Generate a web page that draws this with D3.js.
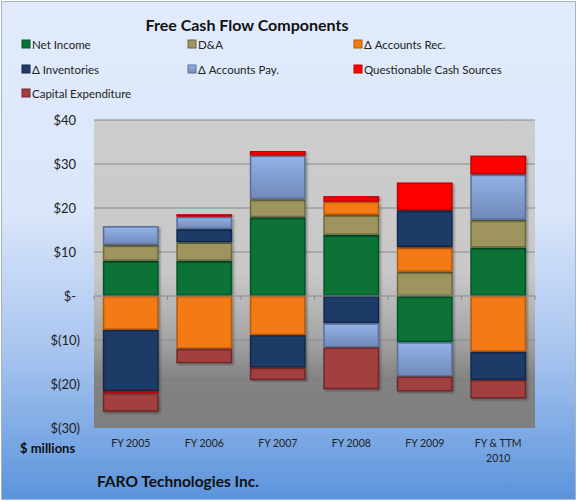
<!DOCTYPE html>
<html><head><meta charset="utf-8">
<script src="https://cdn.jsdelivr.net/npm/d3@7"></script>
<style>body{margin:0;padding:0;overflow:hidden}svg{display:block}text{font-family:Lato,"Open Sans",sans-serif}</style>
</head><body>
<script>
const categories = ["FY 2005","FY 2006","FY 2007","FY 2008","FY 2009","FY & TTM\n2010"];
const seriesNames = ["Net Income","D&A","\u0394 Accounts Rec.","\u0394 Inventories","\u0394 Accounts Pay.","Questionable Cash Sources","Capital Expenditure"];
const netIncome   = [8.0, 8.0, 17.9, 13.9, -10.5, 11.0];
const dna         = [3.6, 4.2, 4.1, 4.5, 5.5, 6.3];
const accountsRec = [-7.7, -12.0, -8.9, 3.0, 5.6, -12.7];
const inventories = [-13.9, 3.0, -7.4, -6.2, 8.4, -6.4];
const accountsPay = [4.3, 2.8, 9.9, -5.5, -7.8, 10.4];
const questionable= [-0.5, 0.6, 1.1, 1.3, 6.3, 4.2];
const capex       = [-4.2, -3.3, -2.8, -9.5, -3.4, -4.2];
const yTicks = [40,30,20,10,0,-10,-20,-30];
const colors = ["#077236","#9d955d","#f47a12","#1d3b66","#8aa8da","#ff0000","#a23f3f"];
const strokes = ["#04552a","#6f6a3f","#b85a0b","#12284a","#5a6f98","#c00000","#702828"];

const W=578,H=502;
const svg=d3.select("body").append("svg").attr("width",W).attr("height",H);
const defs=svg.append("defs");
const bg=defs.append("linearGradient").attr("id","bg").attr("x1",0).attr("y1",0).attr("x2",0).attr("y2",1);
[[0,"#e1ebfb"],[0.42,"#dae6fa"],[0.7,"#a9c5ef"],[1,"#5b94dc"]].forEach(s=>bg.append("stop").attr("offset",s[0]).attr("stop-color",s[1]));
const pg=defs.append("linearGradient").attr("id","pg").attr("x1",0).attr("y1",0).attr("x2",0).attr("y2",1);
[[0,"#cdcdcd"],[0.5,"#c8c8c8"],[0.72,"#a3a3a3"],[0.84,"#828282"],[1,"#7f7f7f"]].forEach(s=>pg.append("stop").attr("offset",s[0]).attr("stop-color",s[1]));
const apg=defs.append("linearGradient").attr("id","apg").attr("x1",0).attr("y1",0).attr("x2",0).attr("y2",1);
[[0,"#93b3e6"],[1,"#7089ba"]].forEach(s=>apg.append("stop").attr("offset",s[0]).attr("stop-color",s[1]));
const sh=defs.append("filter").attr("id","sh").attr("x","-10%").attr("y","-10%").attr("width","130%").attr("height","130%");
sh.append("feDropShadow").attr("dx",1.5).attr("dy",1.5).attr("stdDeviation",1).attr("flood-color","#000").attr("flood-opacity",0.35);

svg.append("rect").attr("x",1.5).attr("y",1.5).attr("width",574).attr("height",498).attr("fill","url(#bg)").attr("stroke","#a8b4c6").attr("stroke-width",1);

const x=d3.scaleBand().domain(categories).range([94,535]).paddingInner(0.24).paddingOuter(0.12);
const y=d3.scaleLinear().domain([-30,40]).range([428,120]);

svg.append("rect").attr("x",94).attr("y",120).attr("width",441).attr("height",308).attr("fill","url(#pg)");

// gridlines
svg.append("g").selectAll("line").data(yTicks.filter(t=>t!==-30 && t!==0)).join("line")
  .attr("x1",94).attr("x2",535).attr("y1",d=>y(d)).attr("y2",d=>y(d))
  .attr("stroke","#8a8a8a").attr("stroke-width",1);

// y axis labels
const yAxis=d3.axisLeft(y).tickValues(yTicks).tickSize(0).tickFormat(d=>d===0?"$-":(d<0?`$(${-d})`:`$${d}`));
const ya=svg.append("g").attr("transform","translate(78,0)").call(yAxis);
ya.select(".domain").remove();
ya.selectAll("text").attr("x",d=>d<0?2:-2).attr("font-size",13).attr("fill","#222").attr("font-family","Lato");

// stack
const table=categories.map((c,i)=>({cat:c,s0:netIncome[i],s1:dna[i],s2:accountsRec[i],s3:inventories[i],s4:accountsPay[i],s5:questionable[i],s6:capex[i]}));
const keys=["s0","s1","s2","s3","s4","s5","s6"];
const stack=d3.stack().keys(keys).offset(d3.stackOffsetDiverging)(table);
const bars=svg.append("g");
stack.forEach((layer,k)=>{
  bars.append("g").selectAll("rect").data(layer).join("rect")
    .attr("x",d=>x(d.data.cat)+0.75).attr("width",x.bandwidth()-1.5)
    .attr("y",d=>y(Math.max(d[0],d[1]))+0.75)
    .attr("height",d=>Math.max(0,Math.abs(y(d[0])-y(d[1]))-1.5))
    .attr("fill",k===4?"url(#apg)":colors[k]).attr("stroke",strokes[k]).attr("stroke-width",1.5)
    .attr("filter","url(#sh)");
});

// zero axis with ticks
svg.append("line").attr("x1",94).attr("x2",535).attr("y1",y(0)).attr("y2",y(0)).attr("stroke","#8a8a8a");
const step=x.step();
svg.append("g").selectAll("line").data(d3.range(7)).join("line")
  .attr("x1",d=>94+d*step).attr("x2",d=>94+d*step).attr("y1",y(0)).attr("y2",y(0)+4).attr("stroke","#8a8a8a");

// x labels
categories.forEach(c=>{
  const lines=c.split("\n");
  lines.forEach((l,j)=>svg.append("text").attr("x",x(c)+x.bandwidth()/2).attr("y",447+j*15)
    .attr("text-anchor","middle").attr("font-size",10.5).attr("fill","#222").text(l));
});

svg.append("text").attr("x",20).attr("y",453).attr("font-size",13).attr("font-weight","bold").attr("fill","#111").text("$ millions");
svg.append("text").attr("x",97).attr("y",487).attr("font-size",15.5).attr("font-weight","bold").attr("fill","#111").text("FARO Technologies Inc.");
svg.append("text").attr("x",247).attr("y",31).attr("text-anchor","middle").attr("font-size",16).attr("font-weight","bold").attr("fill","#111").text("Free Cash Flow Components");

// legend
const colX=[22,188,354], rowY=[44,69,93];
seriesNames.forEach((n,i)=>{
  const cx=colX[i%3], cy=rowY[Math.floor(i/3)];
  svg.append("rect").attr("x",cx).attr("y",cy-4).attr("width",8).attr("height",8)
    .attr("fill",i===4?"url(#apg)":colors[i]).attr("stroke",strokes[i]).attr("stroke-width",1);
  svg.append("text").attr("x",cx+10).attr("y",cy+4.5).attr("font-size",11.5).attr("fill","#222").text(n);
});
</script>
</body></html>
